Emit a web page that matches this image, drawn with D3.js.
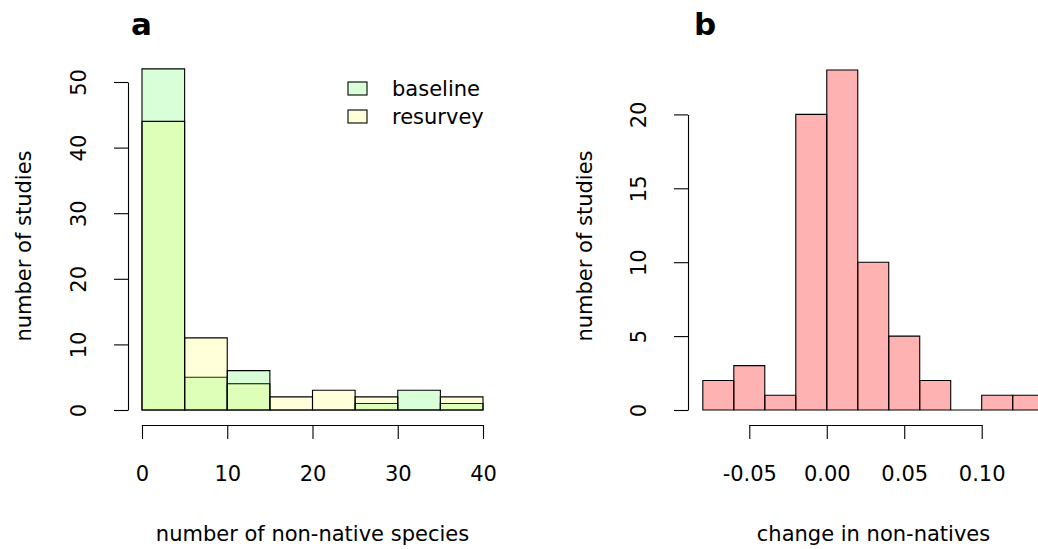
<!DOCTYPE html>
<html>
<head>
<meta charset="utf-8">
<script src="https://cdn.jsdelivr.net/npm/d3@7"></script>
<style>
  body { margin: 0; background: white; }
  svg { display: block; }
  text { font-family: "DejaVu Sans", sans-serif; fill: #000; }
</style>
</head>
<body>
<div id="chart"></div>
<script>
// panel a: histogram of non-native species counts (bins of 5)
const breaksA = [0, 5, 10, 15, 20, 25, 30, 35, 40];
const baselineCounts = [52, 5, 6, 0, 0, 1, 3, 1];
const resurveyCounts = [44, 11, 4, 2, 3, 2, 0, 2];
const ticksAx = [0, 10, 20, 30, 40];
const ticksAy = [0, 10, 20, 30, 40, 50];
const legendLabels = ["baseline", "resurvey"];

// panel b: change in non-natives (bins of 0.02)
const breaksB = [-0.08, -0.06, -0.04, -0.02, 0, 0.02, 0.04, 0.06, 0.08, 0.10, 0.12, 0.14];
const changeCounts = [2, 3, 1, 20, 23, 10, 5, 2, 0, 1, 1];
const ticksBx = [-0.05, 0, 0.05, 0.10];
const ticksBy = [0, 5, 10, 15, 20];

const W = 1038, H = 549;
const fs = 21;

const svg = d3.select("#chart").append("svg")
    .attr("width", W)
    .attr("height", H);

const colBase = "rgba(0,255,0,0.15)";
const colResv = "rgba(255,255,0,0.15)";
const colChange = "rgba(255,0,0,0.3)";

function bins(breaks, counts) {
    return counts.map((c, i) => ({ x0: breaks[i], x1: breaks[i + 1], n: c }));
}

// bars as paths so that empty bins still show their bottom edge, like R's hist
function drawBars(g, data, x, y, fill) {
    g.selectAll(null)
        .data(data)
        .enter()
        .append("path")
        .attr("d", d => `M${x(d.x0)},${y(0)}V${y(d.n)}H${x(d.x1)}V${y(0)}Z`)
        .style("fill", fill)
        .style("stroke", "#000")
        .style("stroke-width", 1.1);
}

function xAxis(g, x, ticks, fmt, yPos) {
    const ax = g.append("g")
        .attr("transform", `translate(0,${yPos})`)
        .call(d3.axisBottom(x).tickValues(ticks).tickFormat(fmt).tickSize(14).tickSizeOuter(0));
    ax.select(".domain").attr("stroke", "#000").attr("stroke-width", 1.1);
    ax.selectAll(".tick line").attr("stroke", "#000").attr("stroke-width", 1.1);
    ax.selectAll(".tick text")
        .attr("y", 56).attr("dy", 0)
        .style("font-size", fs + "px")
        .style("font-family", "DejaVu Sans");
}

function yAxis(g, y, ticks, xPos) {
    const ax = g.append("g")
        .attr("transform", `translate(${xPos},0)`)
        .call(d3.axisLeft(y).tickValues(ticks).tickFormat(d3.format("d")).tickSize(14).tickSizeOuter(0));
    ax.select(".domain").attr("stroke", "#000").attr("stroke-width", 1.1);
    ax.selectAll(".tick line").attr("stroke", "#000").attr("stroke-width", 1.1);
    ax.selectAll(".tick text")
        .attr("x", 0).attr("y", -42).attr("dy", 0)
        .attr("text-anchor", "middle")
        .attr("transform", "rotate(-90)")
        .style("font-size", fs + "px")
        .style("font-family", "DejaVu Sans");
}

// R prints a plain hyphen for negatives
const fmtB = d => d3.format(".2f")(d).replace("\u2212", "-");

// ---------- panel a ----------
const xA = d3.scaleLinear().domain([0, 40]).range([142, 483]);
const yA = d3.scaleLinear().domain([0, 50]).range([410, 82]);
const gA = svg.append("g");

drawBars(gA, bins(breaksA, baselineCounts), xA, yA, colBase);
drawBars(gA, bins(breaksA, resurveyCounts), xA, yA, colResv);

xAxis(gA, xA, ticksAx, d3.format("d"), 425);
yAxis(gA, yA, ticksAy, 128);

gA.append("text")
    .attr("x", 312.5).attr("y", 541)
    .attr("text-anchor", "middle")
    .style("font-size", fs + "px")
    .text("number of non-native species");

gA.append("text")
    .attr("transform", "translate(31,246) rotate(-90)")
    .attr("text-anchor", "middle")
    .style("font-size", fs + "px")
    .text("number of studies");

gA.append("text")
    .attr("x", 131).attr("y", 35)
    .style("font-size", "31px")
    .style("font-weight", "bold")
    .text("a");

// legend
const leg = gA.selectAll("g.legend")
    .data(legendLabels)
    .enter()
    .append("g")
    .attr("class", "legend")
    .attr("transform", (d, i) => `translate(348,${82 + i * 28})`);

leg.append("rect")
    .attr("width", 19).attr("height", 13)
    .style("fill", (d, i) => i === 0 ? colBase : colResv)
    .style("stroke", "#000")
    .style("stroke-width", 1.1);

leg.append("text")
    .attr("x", 44).attr("y", 6.5)
    .attr("dominant-baseline", "central")
    .style("font-size", fs + "px")
    .text(d => d);

// ---------- panel b ----------
const xB = d3.scaleLinear().domain([-0.05, 0.10]).range([749.3, 981.7]);
const yB = d3.scaleLinear().domain([0, 20]).range([410, 114.4]);
const gB = svg.append("g");

drawBars(gB, bins(breaksB, changeCounts), xB, yB, colChange);

xAxis(gB, xB, ticksBx, fmtB, 425);
yAxis(gB, yB, ticksBy, 688);

gB.append("text")
    .attr("x", 873.5).attr("y", 541)
    .attr("text-anchor", "middle")
    .style("font-size", fs + "px")
    .text("change in non-natives");

gB.append("text")
    .attr("transform", "translate(592,246) rotate(-90)")
    .attr("text-anchor", "middle")
    .style("font-size", fs + "px")
    .text("number of studies");

gB.append("text")
    .attr("x", 694).attr("y", 35)
    .style("font-size", "31px")
    .style("font-weight", "bold")
    .text("b");
</script>
</body>
</html>
